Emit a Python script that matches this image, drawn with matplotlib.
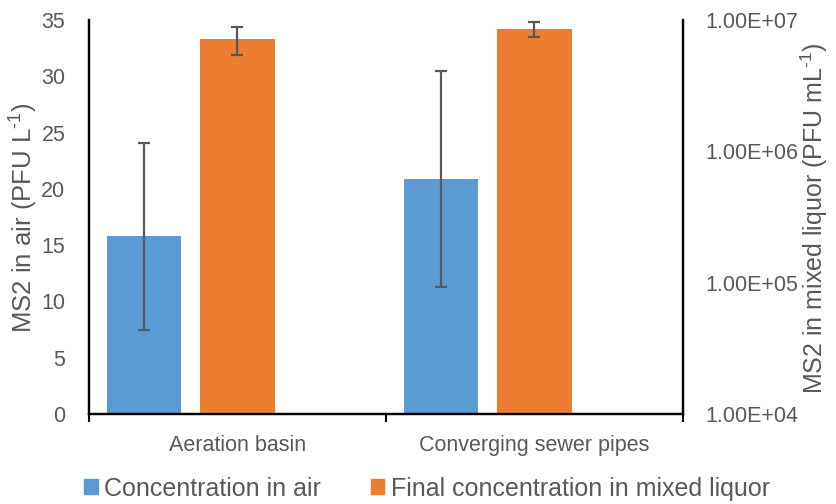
import numpy as np
import matplotlib.pyplot as plt
from matplotlib.ticker import FixedLocator, FuncFormatter

plt.rcParams['font.family'] = ['Liberation Sans', 'DejaVu Sans']
plt.rcParams['mathtext.fontset'] = 'custom'
plt.rcParams['mathtext.rm'] = 'Liberation Sans'

# Sampling sites and measured MS2 values
sites = ['Aeration basin', 'Converging sewer pipes']
air_conc = [15.8, 20.9]            # PFU L-1
air_err = [8.3, 9.6]
liquor_conc = [7.16e6, 8.49e6]     # PFU mL-1
liquor_err = [1.7e6, 1.1e6]
left_ticks = [0, 5, 10, 15, 20, 25, 30, 35]
right_ticks = [1e4, 1e5, 1e6, 1e7]

blue = '#5B9BD5'
orange = '#ED7D31'
grey = '#595959'

fig = plt.figure(figsize=(8.37, 5.04), dpi=100)
ax = fig.add_axes([0.1063, 0.1786, 0.7097, 0.7817])
ax2 = ax.twinx()

x = np.arange(len(sites))
w = 0.25

ax.bar(x - 0.315, air_conc, w, color=blue, zorder=2)
ax.errorbar(x - 0.315, air_conc, yerr=air_err, fmt='none', ecolor=grey,
            elinewidth=1.6, capsize=4.5, capthick=1.6, zorder=3)

ax2.set_yscale('log')
ax2.bar(x, liquor_conc, w, color=orange, zorder=2)
ax2.errorbar(x, liquor_conc, yerr=liquor_err, fmt='none', ecolor=grey,
             elinewidth=1.6, capsize=4.5, capthick=1.6, zorder=3)

ax.set_xlim(-0.5, 1.5)
ax.set_ylim(0, 35)
ax2.set_ylim(1e4, 1e7)

ax.set_yticks(left_ticks)
ax.tick_params(axis='y', length=0, labelsize=15.5, labelcolor=grey, pad=17)
ax2.yaxis.set_major_locator(FixedLocator(right_ticks))
ax2.yaxis.set_minor_locator(FixedLocator([]))
ax2.yaxis.set_major_formatter(FuncFormatter(lambda v, p: f'{v:.2E}'))
ax2.tick_params(axis='y', length=0, labelsize=15.5, labelcolor=grey, pad=16)

# category labels centred, tick marks on the category boundaries
ax.set_xticks(x)
ax.set_xticklabels(sites)
ax.set_xticks([-0.5, 0.5, 1.5], minor=True)
ax.tick_params(axis='x', which='major', length=0, labelsize=15.5,
               labelcolor=grey, pad=15)
ax.tick_params(axis='x', which='minor', length=6, width=1.5, color='black')

for a in (ax, ax2):
    a.spines['top'].set_visible(False)
    for s in ('left', 'right', 'bottom'):
        a.spines[s].set_linewidth(1.6)
        a.spines[s].set_color('black')

# axis titles placed in figure coordinates
fig.text(0.027, 0.568, r'MS2 in air (PFU L$^{\text{-1}}$)', fontsize=18.5,
         color=grey, rotation=90, ha='center', va='center')
fig.text(0.973, 0.568, r'MS2 in mixed liquor (PFU mL$^{\text{-1}}$)', fontsize=18,
         color=grey, rotation=90, ha='center', va='center')

handles = [plt.Rectangle((0, 0), 1, 1, color=blue),
           plt.Rectangle((0, 0), 1, 1, color=orange)]
leg = fig.legend(handles, ['Concentration in air', 'Final concentration in mixed liquor'],
                 loc='lower center', bbox_to_anchor=(0.51, -0.038), ncol=2,
                 frameon=False, fontsize=18, handlelength=0.55, handleheight=0.55,
                 handletextpad=0.25, columnspacing=2.0)
for t in leg.get_texts():
    t.set_color(grey)

fig.savefig('out.png', dpi=100)
